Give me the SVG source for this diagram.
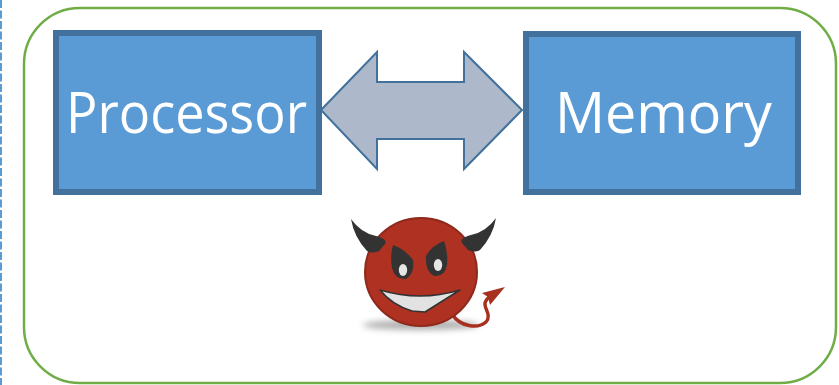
<svg xmlns="http://www.w3.org/2000/svg" width="839" height="385" viewBox="0 0 839 385">
  <style>
    .box { fill: #5B9BD5; stroke: #41719C; stroke-width: 6; }
    .label { font-family: "Open Sans", "Noto Sans", "Liberation Sans", sans-serif; font-size: 57px; fill: #FFFFFF; }
    .horn { fill: #333333; }
    .eye { fill: #333333; }
    .pupil { fill: #E6E6E6; }
  </style>
  <defs>
    <filter id="soft" x="-50%" y="-200%" width="200%" height="500%">
      <feGaussianBlur stdDeviation="3"/>
    </filter>
  </defs>

  <!-- dashed divider on the left edge -->
  <line x1="1" y1="0" x2="1" y2="385" stroke="#5B9BD5" stroke-width="2" stroke-dasharray="8 2.5"/>

  <!-- system boundary -->
  <rect id="system" x="24" y="8" width="812" height="375" rx="56" ry="56" fill="none" stroke="#70AD47" stroke-width="2.5"/>

  <g id="processor">
    <rect class="box" x="56" y="33" width="263" height="159"/>
    <text class="label" x="186.5" y="133" text-anchor="middle" textLength="241" lengthAdjust="spacingAndGlyphs">Processor</text>
  </g>

  <g id="memory">
    <rect class="box" x="526" y="34" width="272" height="158"/>
    <text class="label" x="663.5" y="133" text-anchor="middle" textLength="217" lengthAdjust="spacingAndGlyphs">Memory</text>
  </g>

  <g id="connectors">
    <!-- bidirectional bus arrow -->
    <path d="M321,110 L377,52 L377,82 L464,82 L464,52 L522,110 L464,169 L464,139 L377,139 L377,169 Z" fill="#ADB9CA" stroke="#41719C" stroke-width="2" stroke-linejoin="miter"/>
  </g>

  <g id="devil">
    <!-- ground shadow -->
    <ellipse cx="421" cy="325" rx="58" ry="5" fill="#8A8A8A" opacity="0.7" filter="url(#soft)"/>
    <!-- tail -->
    <path d="M452,314 C460,327 478,329 486,322 C492,315 484,309 485,303 C486,299 489,297 492,295" fill="none" stroke="#A8301F" stroke-width="3.4" stroke-linecap="round"/>
    <path d="M505,287 L482,293 L488,297 L490,305 Z" fill="#A8301F"/>
    <!-- head -->
    <ellipse cx="421" cy="272" rx="56" ry="54" fill="#AE3121" stroke="#8E2A1C" stroke-width="2"/>
    <!-- horns -->
    <path class="horn" d="M351,219 Q361,233 376,236 Q388,239 385,244 L379,251 Q372,254 367,251 Q354,237 351,219 Z"/>
    <path class="horn" d="M496,218 Q486,232 471,235 Q459,238 462,243 L468,250 Q475,253 480,250 Q493,236 496,218 Z"/>
    <!-- eyes -->
    <path class="eye" d="M393,245 Q405,249 413,260 Q415,273 406,279 Q395,280 392,268 Q390,255 393,245 Z"/>
    <ellipse class="pupil" cx="403" cy="270" rx="4.2" ry="6"/>
    <path class="eye" d="M444,241 Q432,245 426,256 Q425,271 434,276 Q445,277 447,265 Q448,251 444,241 Z"/>
    <ellipse class="pupil" cx="438" cy="265" rx="4.2" ry="6"/>
    <!-- grin -->
    <path d="M380,290 Q420,302 460,290 L425,312 L412,311 Q392,305 380,290 Z" fill="#E2E2E2" stroke="#333333" stroke-width="1.6" stroke-linejoin="round"/>
  </g>
</svg>
